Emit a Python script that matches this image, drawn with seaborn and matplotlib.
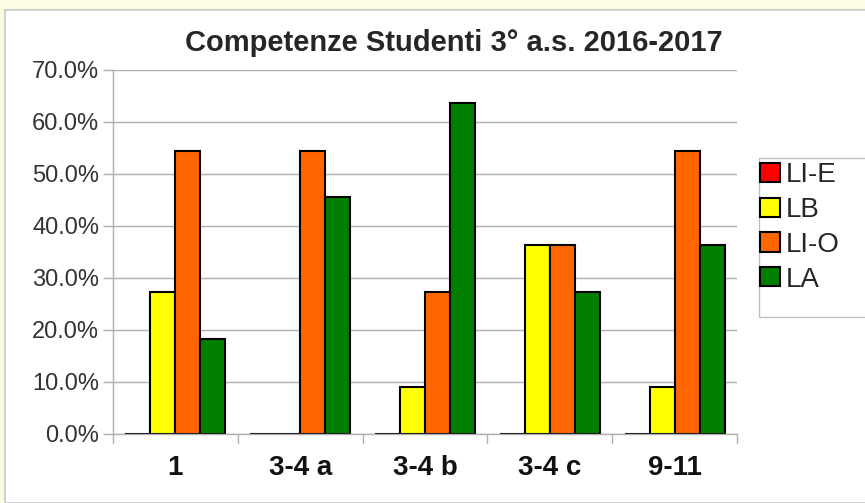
import matplotlib
matplotlib.use("Agg")
import matplotlib.pyplot as plt
from matplotlib.patches import Rectangle, Patch
import seaborn as sns
import pandas as pd

# === DATA ===
categories = ["1", "3-4 a", "3-4 b", "3-4 c", "9-11"]
series = ["LI-E", "LB", "LI-O", "LA"]
li_e = [0.0, 0.0, 0.0, 0.0, 0.0]
lb = [27.3, 0.0, 9.1, 36.4, 9.1]
li_o = [54.5, 54.5, 27.3, 36.4, 54.5]
la = [18.2, 45.5, 63.6, 27.3, 36.4]
colors = ["#ff0000", "#ffff00", "#ff6600", "#007f00"]

rows = []
for name, vals in zip(series, [li_e, lb, li_o, la]):
    for cat, v in zip(categories, vals):
        rows.append({"Categoria": cat, "Livello": name, "Valore": v})
df = pd.DataFrame(rows)

# === PLOT ===
sns.set_theme(style="white")
plt.rcParams['font.family'] = ['Liberation Sans', 'DejaVu Sans']

W, H = 865, 503
fig = plt.figure(figsize=(W / 100, H / 100), dpi=100)
fig.patch.set_facecolor("#fcfce3")
# white chart panel
fig.patches.append(Rectangle((5 / W, 0), 1.0, 1 - 10 / H, transform=fig.transFigure,
                             facecolor="white", edgecolor="#c8c8c8", linewidth=1.2, zorder=-2))

ax = fig.add_axes([113 / W, 69 / H, 624 / W, 364 / H])
sns.barplot(data=df, x="Categoria", y="Valore", hue="Livello", hue_order=series,
            order=categories, palette=colors, saturation=1, width=0.8, edgecolor="black",
            linewidth=1.5, ax=ax, legend=False)

ax.set_ylim(0, 70)
ax.set_xlim(-0.5, 4.5)
ax.set_yticks(range(0, 71, 10))
ax.set_yticklabels([f"{v:.1f}%" for v in range(0, 71, 10)], fontsize=17, color="#333333")
ax.set_xticks(range(len(categories)))
ax.set_xticklabels(categories, fontsize=20, fontweight="bold", color="#111111")
ax.tick_params(axis="x", length=0, pad=15)
ax.tick_params(axis="y", length=7, width=1, color="#b0b0b0", left=True, pad=3)
# category separator ticks below the axis
for b in [-0.5, 0.5, 1.5, 2.5, 3.5, 4.5]:
    ax.plot([b, b], [0, -1.75], color="#b0b0b0", linewidth=1, clip_on=False)

ax.yaxis.grid(True, color="#b0b0b0", linewidth=1)
ax.set_axisbelow(True)
for s in ["top", "right"]:
    ax.spines[s].set_visible(False)
for s in ["left", "bottom"]:
    ax.spines[s].set_color("#b0b0b0")
    ax.spines[s].set_linewidth(1)
ax.set_xlabel("")
ax.set_ylabel("")

fig.text(454 / W, 1 - 43 / H, "Competenze Studenti 3° a.s. 2016-2017",
         ha="center", va="center", fontsize=21, fontweight="bold")

# legend box (runs off the right edge like the original)
fig.patches.append(Rectangle((759 / W, 1 - 317 / H), 0.5, 159 / H, transform=fig.transFigure,
                             facecolor="white", edgecolor="#c0c0c0", linewidth=1, zorder=-1))
handles = [Patch(facecolor=c, edgecolor="black", linewidth=1.5, label=s) for s, c in zip(series, colors)]
leg = fig.legend(handles=handles, loc="upper left", bbox_to_anchor=(760 / W, 1 - 162 / H),
                 fontsize=20, frameon=False, handlelength=0.72, handleheight=0.68,
                 handletextpad=0.2, labelspacing=0.32, borderpad=0, borderaxespad=0)

fig.savefig("out.png", dpi=100, facecolor=fig.get_facecolor())
